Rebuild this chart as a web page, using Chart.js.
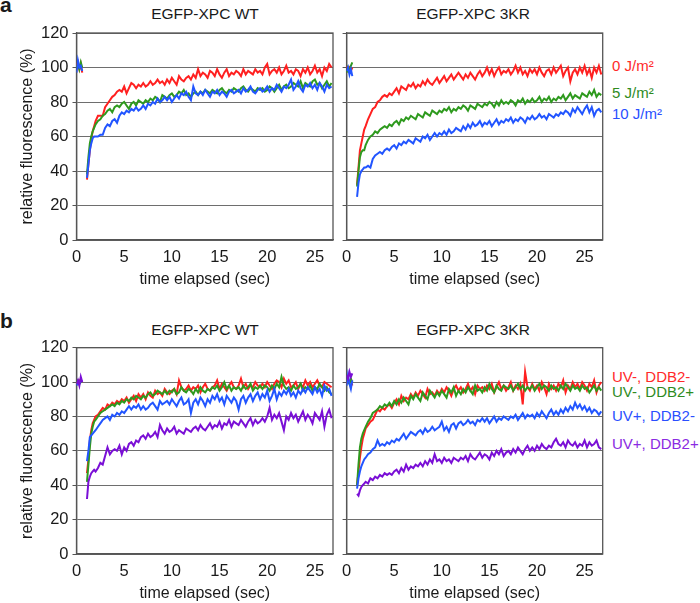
<!DOCTYPE html>
<html>
<head>
<meta charset="utf-8">
<script src="https://cdn.jsdelivr.net/npm/chart.js@4/dist/chart.umd.min.js"></script>
<style>
  body { margin: 0; width: 700px; height: 603px; overflow: hidden; background: #fff; position: relative;
         font-family: "Liberation Sans", Arial, sans-serif; color: #1a1a1a; }
  canvas { position: absolute; }
  .txt { position: absolute; white-space: nowrap; font-size: 15px; line-height: 18px; }
  .ttl { width: 260px; text-align: center; font-size: 15.5px; }
  .letter { font-weight: bold; font-size: 21px; line-height: 24px; }
</style>
</head>
<body>
<div class="txt letter" style="left:0;top:-7px">a</div>
<div class="txt letter" style="left:0;top:309px">b</div>

<div class="txt ttl" style="left:75px;top:5px">EGFP-XPC WT</div>
<div class="txt ttl" style="left:343px;top:5px">EGFP-XPC 3KR</div>
<div class="txt ttl" style="left:75px;top:321px">EGFP-XPC WT</div>
<div class="txt ttl" style="left:343px;top:321px">EGFP-XPC 3KR</div>

<div class="txt" style="left:612px;top:57px;color:#ff2a2a">0 J/m²</div>
<div class="txt" style="left:612px;top:84px;color:#2e8b1e">5 J/m²</div>
<div class="txt" style="left:612px;top:105px;color:#2a4fff">10 J/m²</div>

<div class="txt" style="left:612px;top:368px;color:#ff2a2a">UV-, DDB2-</div>
<div class="txt" style="left:612px;top:383px;color:#2e8b1e">UV-, DDB2+</div>
<div class="txt" style="left:612px;top:407px;color:#2a4fff">UV+, DDB2-</div>
<div class="txt" style="left:612px;top:435px;color:#8a2be2">UV+, DDB2+</div>

<canvas id="aWT" width="340" height="290" style="left:0;top:0"></canvas>
<canvas id="a3KR" width="366" height="290" style="left:334px;top:0"></canvas>
<canvas id="bWT" width="340" height="305" style="left:0;top:299px"></canvas>
<canvas id="b3KR" width="366" height="305" style="left:334px;top:299px"></canvas>

<script>
// time points (sec): prebleach, gap, then recovery
const time = [0, 0.15, 0.3, 0.45, 0.6, 0.85,
  1.1, 1.25, 1.4, 1.55, 1.7, 1.85,
  2, 2.25, 2.5, 2.75, 3, 3.25, 3.5, 3.75, 4, 4.25,
  4.5, 4.75, 5, 5.25, 5.5, 5.75, 6, 6.25, 6.5, 6.75,
  7, 7.25, 7.5, 7.75, 8, 8.25, 8.5, 8.75, 9, 9.25,
  9.5, 9.75, 10, 10.25, 10.5, 10.75, 11, 11.25, 11.5, 11.75,
  12, 12.25, 12.5, 12.75, 13, 13.25, 13.5, 13.75, 14, 14.25,
  14.5, 14.75, 15, 15.25, 15.5, 15.75, 16, 16.25, 16.5, 16.75,
  17, 17.25, 17.5, 17.75, 18, 18.25, 18.5, 18.75, 19, 19.25,
  19.5, 19.75, 20, 20.25, 20.5, 20.75, 21, 21.25, 21.5, 21.75,
  22, 22.25, 22.5, 22.75, 23, 23.25, 23.5, 23.75, 24, 24.25,
  24.5, 24.75, 25, 25.25, 25.5, 25.75, 26, 26.25, 26.5, 26.75];

// panel a, EGFP-XPC WT
const wtA_0J = [101, 103, 99, 102, 97, null,
  35, 44, 52, 59, 63, 66,
  69, 72, 72, 72, 77, 79, 81, 83, 84, 86,
  87, 86, 89, 85, 88, 91, 90, 88, 90, 89,
  91, 89, 90, 92, 90, 91, 93, 91, 92, 90,
  93, 91, 94, 92, 90, 95, 93, 92, 94, 95,
  93, 96, 94, 99, 95, 97, 96, 94, 98, 97,
  95, 99, 96, 94, 97, 99, 95, 97, 96, 98,
  97, 95, 99, 96, 98, 97, 96, 99, 97, 98,
  96, 100, 102, 96, 98, 99, 97, 100, 96, 98,
  101, 97, 98, 96, 99, 98, 95, 99, 97, 100,
  96, 98, 101, 97, 99, 95, 100, 98, 102, 100];
const wtA_5J = [100, 102, 99, 103, 100, null,
  38, 48, 56, 60, 63, 65,
  67, 69, 70, 72, 73, 75, 76, 74, 77, 78,
  77, 79, 80, 78, 76, 79, 80, 78, 81, 80,
  79, 81, 80, 82, 81, 83, 82, 80, 84, 83,
  82, 84, 85, 83, 84, 86, 85, 87, 84, 85,
  83, 85, 86, 84, 86, 85, 87, 86, 85, 87,
  86, 85, 87, 88, 86, 85, 87, 86, 88, 87,
  86, 88, 89, 87, 86, 88, 87, 86, 88, 87,
  88, 86, 87, 89, 88, 86, 88, 90, 87, 89,
  90, 88, 89, 91, 90, 89, 92, 88, 91, 90,
  89, 92, 93, 90, 91, 88, 90, 92, 89, 91];
const wtA_10J = [97, 104, 100, 101, 98, null,
  36, 44, 52, 56, 59, 60,
  60, 60, 61, 61, 65, 67, 66, 69, 70, 68,
  72, 74, 73, 75, 74, 76, 75, 77, 75, 76,
  78, 76, 79, 78, 80, 79, 82, 80, 81, 83,
  81, 83, 80, 82, 84, 82, 85, 84, 86, 83,
  81, 89, 85, 84, 86, 84, 87, 85, 83, 86,
  85, 87, 84, 86, 85, 83, 86, 87, 85, 86,
  87, 85, 88, 86, 87, 89, 86, 85, 87, 88,
  86, 87, 89, 86, 88, 87, 90, 88, 86, 89,
  88, 90, 93, 87, 89, 92, 88, 86, 90, 89,
  91, 88, 90, 87, 91, 89, 86, 90, 88, 89];

// panel a, EGFP-XPC 3KR
const krA_0J = [101, 99, 100, 98, 100, null,
  32, 42, 52, 56, 60, 64,
  66, 70, 73, 76, 77, 80, 81, 83, 84, 83,
  85, 84, 86, 88, 85, 89, 88, 87, 90, 89,
  91, 88, 90, 89, 92, 90, 93, 91, 90, 92,
  94, 91, 93, 95, 92, 94, 96, 93, 95, 97,
  95, 93, 96, 94, 97, 95, 93, 96, 98, 95,
  97, 100, 96, 99, 95, 98, 100, 96, 98, 97,
  99, 96, 98, 101, 97, 100, 96, 98, 95, 99,
  97, 99, 96, 100, 97, 95, 98, 99, 96, 100,
  97, 99, 101, 95, 98, 100, 92, 97, 99, 96,
  100, 97, 101, 96, 99, 94, 100, 97, 101, 96];
const krA_5J = [97, 100, 98, 101, 103, null,
  31, 40, 48, 51, 52, 52,
  55, 58, 60, 61, 63, 62, 64, 65, 66, 65,
  67, 66, 68, 69, 67, 70, 69, 71, 70, 72,
  71, 70, 73, 72, 71, 74, 73, 72, 75, 74,
  73, 75, 74, 76, 75, 77, 74, 76, 75, 77,
  76, 78, 77, 75, 78, 77, 76, 79, 78, 77,
  79, 78, 80, 79, 77, 80, 78, 81, 79, 80,
  79, 81, 80, 78, 81, 80, 82, 79, 81, 80,
  82, 80, 81, 83, 80, 82, 81, 83, 80, 82,
  81, 83, 82, 84, 81, 83, 85, 82, 84, 83,
  82, 85, 84, 83, 86, 84, 87, 83, 85, 84];
const krA_10J = [98, 100, 96, 99, 95, null,
  25, 33, 38, 40, 41, 42,
  42, 43, 42, 47, 49, 50, 51, 50, 52, 53,
  52, 54, 55, 53, 56, 55, 57, 56, 58, 57,
  56, 59, 58, 57, 60, 59, 61, 58, 60, 62,
  60, 62, 61, 63, 61, 64, 62, 63, 65, 64,
  63, 66, 64, 67, 65, 68, 66, 67, 69, 66,
  68, 67, 69, 66, 68, 70, 67, 69, 68, 70,
  69, 71, 68, 70, 69, 71, 70, 68, 71, 70,
  72, 70, 71, 73, 71, 72, 70, 73, 72, 71,
  73, 72, 74, 73, 75, 74, 72, 76, 74, 77,
  75, 73, 76, 78, 74, 77, 72, 75, 76, 74];

// panel b, EGFP-XPC WT
const wtB_uvmDm = [100, 99, 101, 100, 100, null,
  47, 55, 66, 72, 76, 78,
  80, 81, 83, 85, 84, 87, 86, 88, 87, 89,
  88, 90, 89, 91, 88, 90, 92, 89, 93, 91,
  93, 90, 94, 92, 91, 95, 93, 94, 92, 96,
  94, 93, 95, 96, 93, 101, 97, 95, 96, 98,
  95, 97, 96, 98, 94, 97, 99, 96, 95, 97,
  98, 101, 96, 99, 97, 95, 98, 100, 97, 96,
  98, 102, 97, 99, 96, 98, 97, 100, 98, 97,
  99, 97, 100, 98, 96, 99, 101, 100, 97, 102,
  99, 101, 97, 98, 100, 96, 99, 97, 101, 98,
  100, 97, 99, 101, 98, 97, 100, 99, 98, 97];
const wtB_uvmDp = [100, 101, 99, 100, 101, null,
  42, 52, 62, 70, 74, 77,
  78, 80, 82, 83, 84, 85, 86, 87, 86, 88,
  87, 89, 88, 90, 89, 91, 90, 92, 91, 90,
  92, 91, 93, 94, 92, 93, 95, 94, 93, 95,
  93, 95, 94, 96, 93, 94, 97, 95, 94, 96,
  95, 93, 96, 94, 97, 95, 94, 96, 95, 97,
  96, 98, 95, 97, 100, 96, 98, 95, 97, 96,
  97, 95, 98, 96, 97, 99, 95, 97, 96, 98,
  96, 98, 97, 95, 98, 96, 99, 97, 103, 98,
  96, 97, 95, 98, 96, 97, 99, 95, 97, 96,
  98, 95, 97, 96, 99, 97, 95, 97, 94, 93];
const wtB_uvpDm = [98, 100, 99, 101, 100, null,
  54, 60, 68, 69, 70, 71,
  72, 74, 76, 78, 79, 80, 78, 81, 80, 82,
  81, 83, 82, 84, 86, 84, 86, 85, 87, 84,
  86, 84, 85, 87, 88, 86, 84, 89, 87, 88,
  89, 87, 90, 88, 86, 89, 91, 87, 88, 90,
  82, 88, 90, 87, 91, 89, 86, 90, 88, 92,
  90, 93, 89, 91, 87, 92, 90, 88, 91, 89,
  84, 90, 92, 88, 91, 93, 89, 92, 94, 90,
  93, 91, 95, 89, 92, 96, 90, 94, 92, 95,
  93, 96, 92, 94, 91, 95, 93, 96, 94, 97,
  95, 93, 97, 94, 96, 92, 98, 95, 96, 92];
const wtB_uvpDp = [99, 101, 98, 103, 100, null,
  32, 42, 45, 47, 48, 49,
  48, 50, 53, 52, 57, 62, 58, 60, 61, 60,
  63, 58, 62, 60, 64, 65, 63, 66, 65, 68,
  69, 67, 70, 68, 69, 71, 68, 75, 72, 70,
  73, 71, 72, 74, 70, 72, 71, 70, 73, 72,
  71, 73, 74, 72, 75, 73, 72, 74, 76, 73,
  75, 74, 77, 73, 76, 75, 78, 74, 77, 76,
  75, 78, 76, 74, 77, 79, 75, 78, 76, 77,
  79, 77, 80, 85, 78, 81, 79, 82, 77, 72,
  80, 78, 82, 79, 81, 77, 80, 83, 78, 81,
  79, 76, 82, 80, 78, 83, 74, 81, 84, 79];

// panel b, EGFP-XPC 3KR
const krB_uvmDm = [99, 102, 100, 101, 98, null,
  40, 48, 56, 62, 67, 70,
  73, 75, 77, 78, 81, 84, 83, 85, 84, 86,
  87, 85, 88, 90, 87, 92, 89, 91, 90, 93,
  91, 94, 92, 95, 93, 91, 96, 93, 94, 92,
  95, 93, 96, 94, 97, 95, 92, 96, 98, 95,
  97, 94, 96, 99, 95, 97, 93, 98, 96, 97,
  95, 98, 96, 99, 94, 97, 100, 96, 98, 95,
  97, 100, 95, 98, 96, 99, 87, 106, 97, 95,
  99, 96, 98, 95, 100, 97, 93, 99, 96, 98,
  95, 99, 97, 101, 94, 98, 96, 100, 97, 99,
  96, 100, 98, 95, 99, 97, 101, 94, 98, 100];
const krB_uvmDp = [101, 100, 99, 102, 100, null,
  40, 52, 62, 67, 70, 72,
  74, 77, 79, 82, 83, 84, 86, 85, 87, 86,
  88, 86, 89, 87, 90, 88, 91, 89, 87, 92,
  90, 93, 91, 89, 94, 92, 90, 95, 93, 91,
  94, 92, 95, 93, 91, 96, 94, 97, 92, 95,
  93, 96, 94, 97, 95, 93, 98, 95, 96, 94,
  97, 95, 99, 96, 94, 98, 96, 95, 98, 97,
  96, 98, 95, 97, 99, 96, 98, 95, 97, 96,
  98, 95, 97, 99, 96, 98, 97, 95, 98, 96,
  97, 95, 98, 96, 99, 97, 95, 98, 96, 97,
  95, 98, 96, 97, 94, 96, 98, 95, 97, 95];
const krB_uvpDm = [98, 104, 99, 96, 101, null,
  38, 44, 48, 51, 53, 55,
  56, 58, 59, 61, 62, 66, 63, 64, 63, 65,
  64, 66, 65, 67, 66, 68, 70, 67, 69, 71,
  70, 69, 71, 72, 70, 73, 71, 72, 74, 72,
  73, 74, 77, 72, 74, 71, 75, 76, 73, 76,
  77, 75, 76, 78, 76, 77, 75, 78, 77, 79,
  77, 79, 76, 78, 80, 77, 79, 78, 80, 79,
  78, 80, 79, 81, 78, 80, 82, 79, 81, 80,
  81, 79, 82, 80, 83, 81, 79, 82, 84, 81,
  83, 81, 84, 82, 85, 83, 86, 84, 88, 85,
  87, 84, 86, 83, 85, 82, 84, 83, 81, 83];
const krB_uvpDp = [104, 102, 106, 103, 105, null,
  35, 34, 37, 39, 40, 41,
  42, 41, 44, 43, 45, 44, 46, 45, 47, 46,
  47, 46, 48, 49, 47, 50, 48, 52, 49, 51,
  50, 52, 51, 53, 51, 54, 52, 55, 53, 58,
  54, 55, 53, 56, 54, 55, 53, 56, 55, 54,
  56, 55, 57, 54, 58, 56, 55, 57, 59, 56,
  58, 57, 55, 59, 57, 60, 58, 61, 57, 59,
  60, 58, 61, 59, 62, 60, 58, 61, 63, 60,
  62, 60, 63, 61, 64, 62, 61, 63, 62, 65,
  67, 64, 63, 65, 62, 66, 64, 63, 65, 62,
  64, 63, 66, 62, 65, 63, 64, 66, 62, 61];

const RED = '#ff2020', GREEN = '#2e9a1e', BLUE = '#2255ff', PURPLE = '#7a0fd6';

Chart.defaults.font.family = "'Liberation Sans', Arial, sans-serif";
Chart.defaults.color = '#1a1a1a';

// box around the plot area (top and right edges)
const framePlugin = {
    id: 'frame',
    beforeDatasetsDraw(chart) {
        const a = chart.chartArea;
        const ctx = chart.ctx;
        ctx.save();
        ctx.strokeStyle = '#555';
        ctx.lineWidth = 1.3;
        ctx.strokeRect(a.left, a.top, a.right - a.left, a.bottom - a.top);
        ctx.restore();
    }
};

function makeChart(id, series, showY, padding) {
    const ctx = document.getElementById(id).getContext('2d');
    new Chart(ctx, {
        type: 'line',
        data: {
            labels: time,
            datasets: series.map((s, i) => ({
                label: s.label,
                data: s.data,
                borderColor: s.color,
                borderWidth: 2,
                pointRadius: 0,
                tension: 0,
                spanGaps: false,
                order: series.length - i
            }))
        },
        options: {
            responsive: false,
            animation: false,
            devicePixelRatio: 1,
            layout: { padding: padding },
            plugins: { legend: { display: false }, tooltip: { enabled: false } },
            scales: {
                x: {
                    type: 'linear',
                    min: 0,
                    max: 26.9,
                    grid: { display: false, drawTicks: false },
                    border: { color: '#555', width: 1.3 },
                    ticks: { stepSize: 5, includeBounds: false, padding: 8, font: { size: 16.5 } },
                    afterBuildTicks: scale => { scale.ticks = scale.ticks.filter(t => t.value % 5 === 0); },
                    afterFit: scale => { scale.height = 50; },
                    title: { display: true, text: 'time elapsed (sec)', font: { size: 16 }, padding: { top: 0, bottom: 1 } }
                },
                y: {
                    min: 0,
                    max: 120,
                    grid: { color: '#6e6e6e', lineWidth: 1, tickLength: 4, tickColor: '#555' },
                    border: { color: '#555', width: 1.3 },
                    ticks: { stepSize: 20, padding: 4, display: showY, font: { size: 16.5 } },
                    afterFit: scale => { scale.width = showY ? 76.5 : 9.5; },
                    title: { display: showY, text: 'relative fluorescence (%)', font: { size: 16 }, padding: { top: 18, bottom: 0 } }
                }
            }
        },
        plugins: [framePlugin]
    });
}

makeChart('aWT', [
    { label: '0 J/m²', data: wtA_0J, color: RED },
    { label: '5 J/m²', data: wtA_5J, color: GREEN },
    { label: '10 J/m²', data: wtA_10J, color: BLUE }
], true, { top: 33, right: 7, bottom: 0, left: 0 });

makeChart('a3KR', [
    { label: '0 J/m²', data: krA_0J, color: RED },
    { label: '5 J/m²', data: krA_5J, color: GREEN },
    { label: '10 J/m²', data: krA_10J, color: BLUE }
], false, { top: 33, right: 97.3, bottom: 0, left: 0 });

makeChart('bWT', [
    { label: 'UV-, DDB2-', data: wtB_uvmDm, color: RED },
    { label: 'UV-, DDB2+', data: wtB_uvmDp, color: GREEN },
    { label: 'UV+, DDB2-', data: wtB_uvpDm, color: BLUE },
    { label: 'UV+, DDB2+', data: wtB_uvpDp, color: PURPLE }
], true, { top: 48.7, right: 7, bottom: 0, left: 0 });

makeChart('b3KR', [
    { label: 'UV-, DDB2-', data: krB_uvmDm, color: RED },
    { label: 'UV-, DDB2+', data: krB_uvmDp, color: GREEN },
    { label: 'UV+, DDB2-', data: krB_uvpDm, color: BLUE },
    { label: 'UV+, DDB2+', data: krB_uvpDp, color: PURPLE }
], false, { top: 48.7, right: 97.3, bottom: 0, left: 0 });
</script>
</body>
</html>
